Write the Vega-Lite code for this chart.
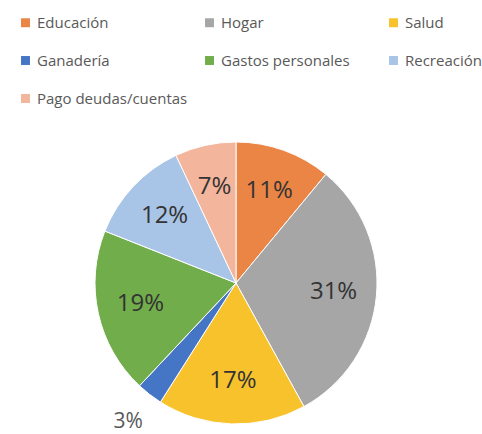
{
  "$schema": "https://vega.github.io/schema/vega-lite/v6.json",
  "width": 282,
  "height": 282,
  "autosize": {"type": "none"},
  "padding": {"left": 95, "top": 142, "right": 105, "bottom": 10},
  "background": "white",
  "data": {
    "values": [
      {"categoria": "Educación", "valor": 0.11, "orden": 1},
      {"categoria": "Hogar", "valor": 0.31, "orden": 2},
      {"categoria": "Salud", "valor": 0.17, "orden": 3},
      {"categoria": "Ganadería", "valor": 0.03, "orden": 4},
      {"categoria": "Gastos personales", "valor": 0.19, "orden": 5},
      {"categoria": "Recreación", "valor": 0.12, "orden": 6},
      {"categoria": "Pago deudas/cuentas", "valor": 0.07, "orden": 7}
    ]
  },
  "encoding": {
    "theta": {"field": "valor", "type": "quantitative", "stack": true},
    "order": {"field": "orden", "type": "quantitative"}
  },
  "layer": [
    {
      "mark": {"type": "arc", "stroke": "white", "strokeWidth": 1},
      "encoding": {
        "color": {
          "field": "categoria",
          "type": "nominal",
          "sort": ["Educación", "Hogar", "Salud", "Ganadería", "Gastos personales", "Recreación", "Pago deudas/cuentas"],
          "scale": {
            "domain": ["Educación", "Hogar", "Salud", "Ganadería", "Gastos personales", "Recreación", "Pago deudas/cuentas"],
            "range": ["#EA8546", "#A6A6A6", "#F7C22C", "#4576C6", "#72AD4B", "#A8C5E7", "#F3B59B"]
          },
          "legend": {
            "title": null,
            "orient": "none",
            "direction": "horizontal",
            "legendX": -77,
            "legendY": -127,
            "columns": 3,
            "gridAlign": "all",
            "columnPadding": 14,
            "rowPadding": 22,
            "symbolType": "square",
            "symbolSize": 80,
            "symbolStrokeWidth": 0,
            "symbolOffset": 0,
            "labelFont": "Open Sans",
            "labelFontSize": 15,
            "labelColor": "#595959",
            "labelOffset": 4,
            "labelLimit": 300
          }
        }
      }
    },
    {
      "mark": {"type": "text", "radius": 98, "font": "Open Sans", "fontSize": 24, "fill": "#333333", "align": "center", "baseline": "middle"},
      "encoding": {
        "text": {"field": "valor", "type": "quantitative", "format": ".0%"},
        "opacity": {"condition": {"test": "datum.valor < 0.05", "value": 0}, "value": 1}
      }
    },
    {
      "mark": {"type": "text", "radius": 176, "font": "Open Sans", "fontSize": 21, "fill": "#595959", "align": "center", "baseline": "middle"},
      "encoding": {
        "text": {"field": "valor", "type": "quantitative", "format": ".0%"},
        "opacity": {"condition": {"test": "datum.valor < 0.05", "value": 1}, "value": 0}
      }
    }
  ]
}
